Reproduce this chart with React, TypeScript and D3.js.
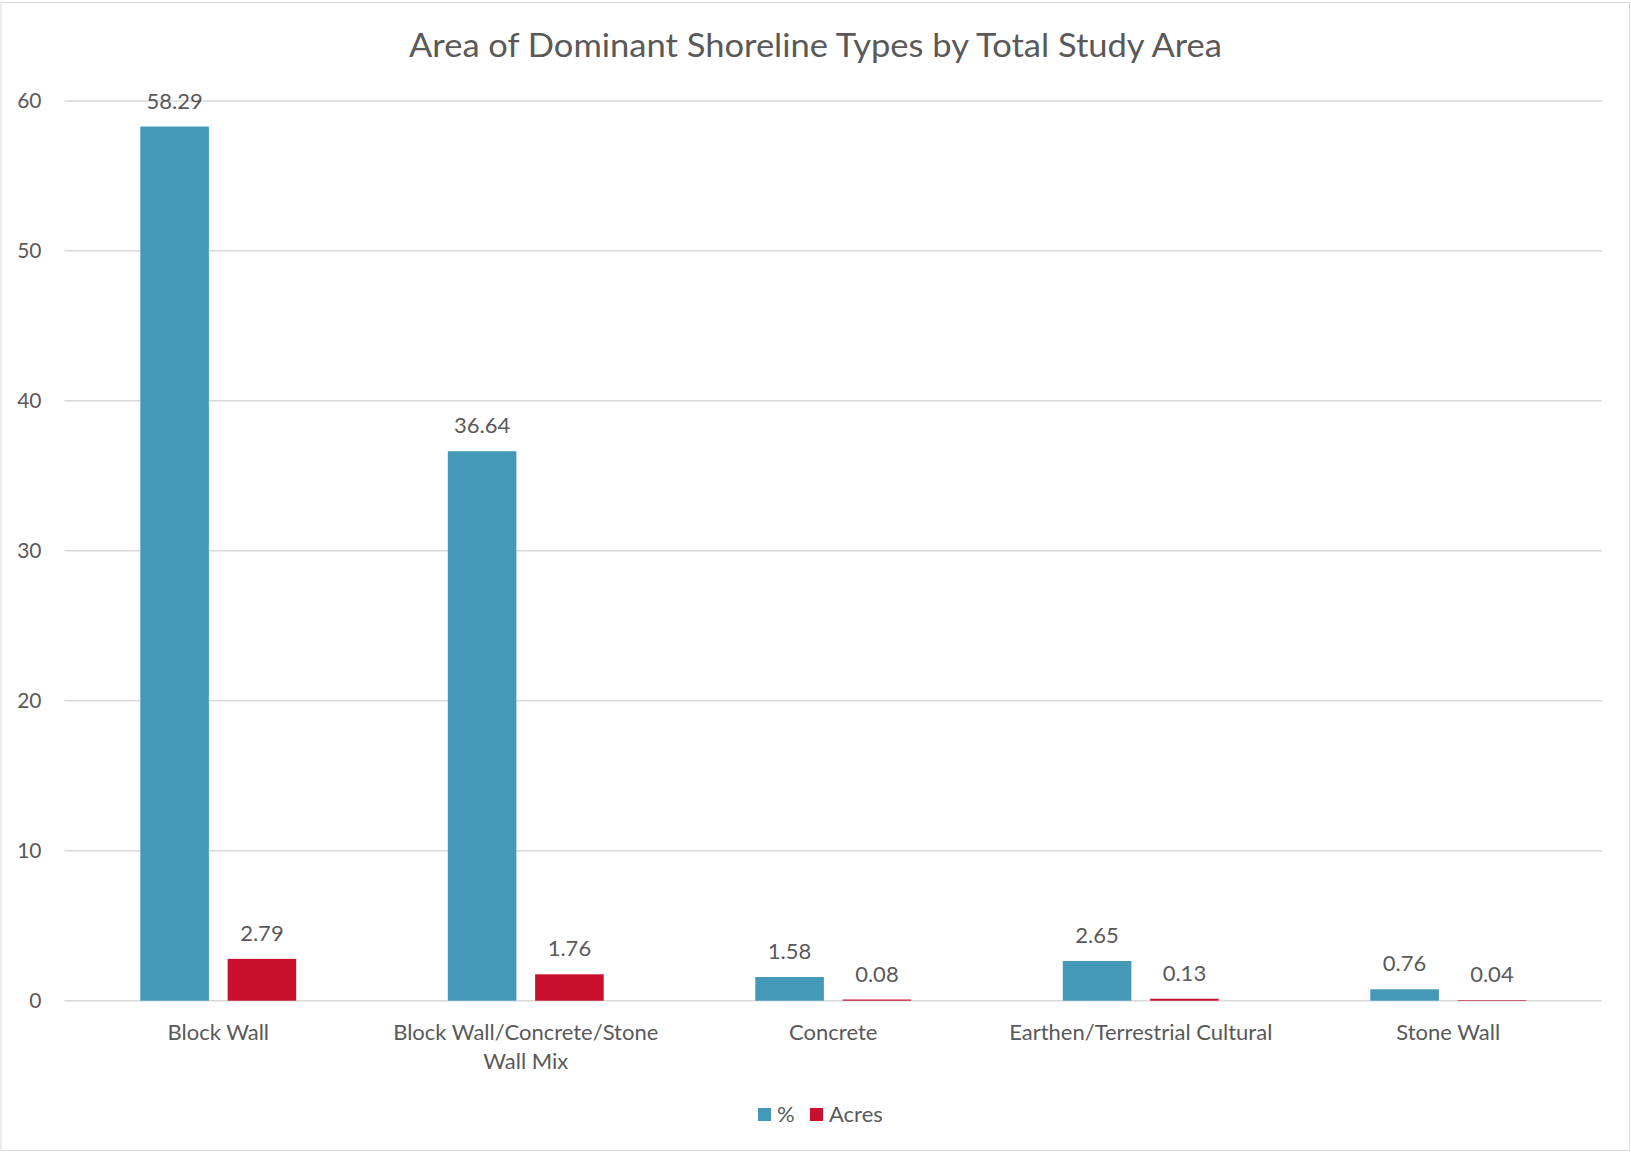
import React from "react";
import * as d3 from "d3";

const categories: string[][] = [
  ["Block Wall"],
  ["Block Wall/Concrete/Stone", "Wall Mix"],
  ["Concrete"],
  ["Earthen/Terrestrial Cultural"],
  ["Stone Wall"],
];
const categoryKeys = ["Block Wall", "Block Wall/Concrete/Stone Wall Mix", "Concrete", "Earthen/Terrestrial Cultural", "Stone Wall"];
const percentValues = [58.29, 36.64, 1.58, 2.65, 0.76];
const acresValues = [2.79, 1.76, 0.08, 0.13, 0.04];
const seriesNames = ["%", "Acres"];
const yTicks = [0, 10, 20, 30, 40, 50, 60];
const title = "Area of Dominant Shoreline Types by Total Study Area";

const W = 1631;
const H = 1153;
const FONT = "Lato, 'Open Sans', sans-serif";
const TEXT = "#595959";
const BLUE = "#4499B8";
const RED = "#C8102E";

export default function App() {
  const left = 64.5;
  const right = 1602;
  const top = 100.9;
  const bottom = 1000.7;

  const x = d3.scaleBand<string>().domain(categoryKeys).range([left, right]).paddingInner(0).paddingOuter(0);
  const y = d3.scaleLinear().domain([0, 60]).range([bottom, top]);
  const bw = x.bandwidth();
  const barW = bw * 0.223;
  const gap = bw * 0.061;
  const groupOffset = (bw - (2 * barW + gap)) / 2;

  const series = [percentValues, acresValues];
  const colors = [BLUE, RED];

  return (
    <svg width={W} height={H} style={{ position: "absolute", left: 0, top: 0 }} fontFamily={FONT}>
      <rect x={0} y={0} width={W} height={H} fill="#fff" />
      <rect x={1} y={2.5} width={W - 2.5} height={H - 5} fill="none" stroke="#D9D9D9" strokeWidth={1} />
      <text x={815.5} y={57} textAnchor="middle" fontSize={32} fill={TEXT} textLength={813} lengthAdjust="spacingAndGlyphs">
        {title}
      </text>
      {yTicks.map((t) => (
        <g key={t}>
          <line x1={left} x2={right} y1={y(t)} y2={y(t)} stroke="#D9D9D9" strokeWidth={1.5} />
          <text x={41.5} y={y(t)} dy="0.35em" textAnchor="end" fontSize={21} fill={TEXT}>
            {t}
          </text>
        </g>
      ))}
      {series.map((vals, si) =>
        vals.map((v, i) => {
          const bx = (x(categoryKeys[i]) as number) + groupOffset + si * (barW + gap);
          const by = y(v);
          return (
            <g key={`${si}-${i}`}>
              <rect x={bx} y={by} width={barW} height={bottom - by} fill={colors[si]} />
              <text x={bx + barW / 2} y={by - 18} textAnchor="middle" fontSize={22} fill={TEXT}>
                {v.toFixed(2)}
              </text>
            </g>
          );
        })
      )}
      {categories.map((lines, i) => {
        const cx = (x(categoryKeys[i]) as number) + bw / 2;
        return (
          <text key={i} x={cx} y={1040} textAnchor="middle" fontSize={22} fill={TEXT}>
            {lines.map((l, j) => (
              <tspan key={j} x={cx} dy={j === 0 ? 0 : 29}>
                {l}
              </tspan>
            ))}
          </text>
        );
      })}
      <g>
        <rect x={758} y={1108} width={13} height={13} fill={BLUE} />
        <text x={777} y={1122} fontSize={22} fill={TEXT}>{seriesNames[0]}</text>
        <rect x={810} y={1108} width={13} height={13} fill={RED} />
        <text x={829} y={1122} fontSize={22} fill={TEXT}>{seriesNames[1]}</text>
      </g>
    </svg>
  );
}
